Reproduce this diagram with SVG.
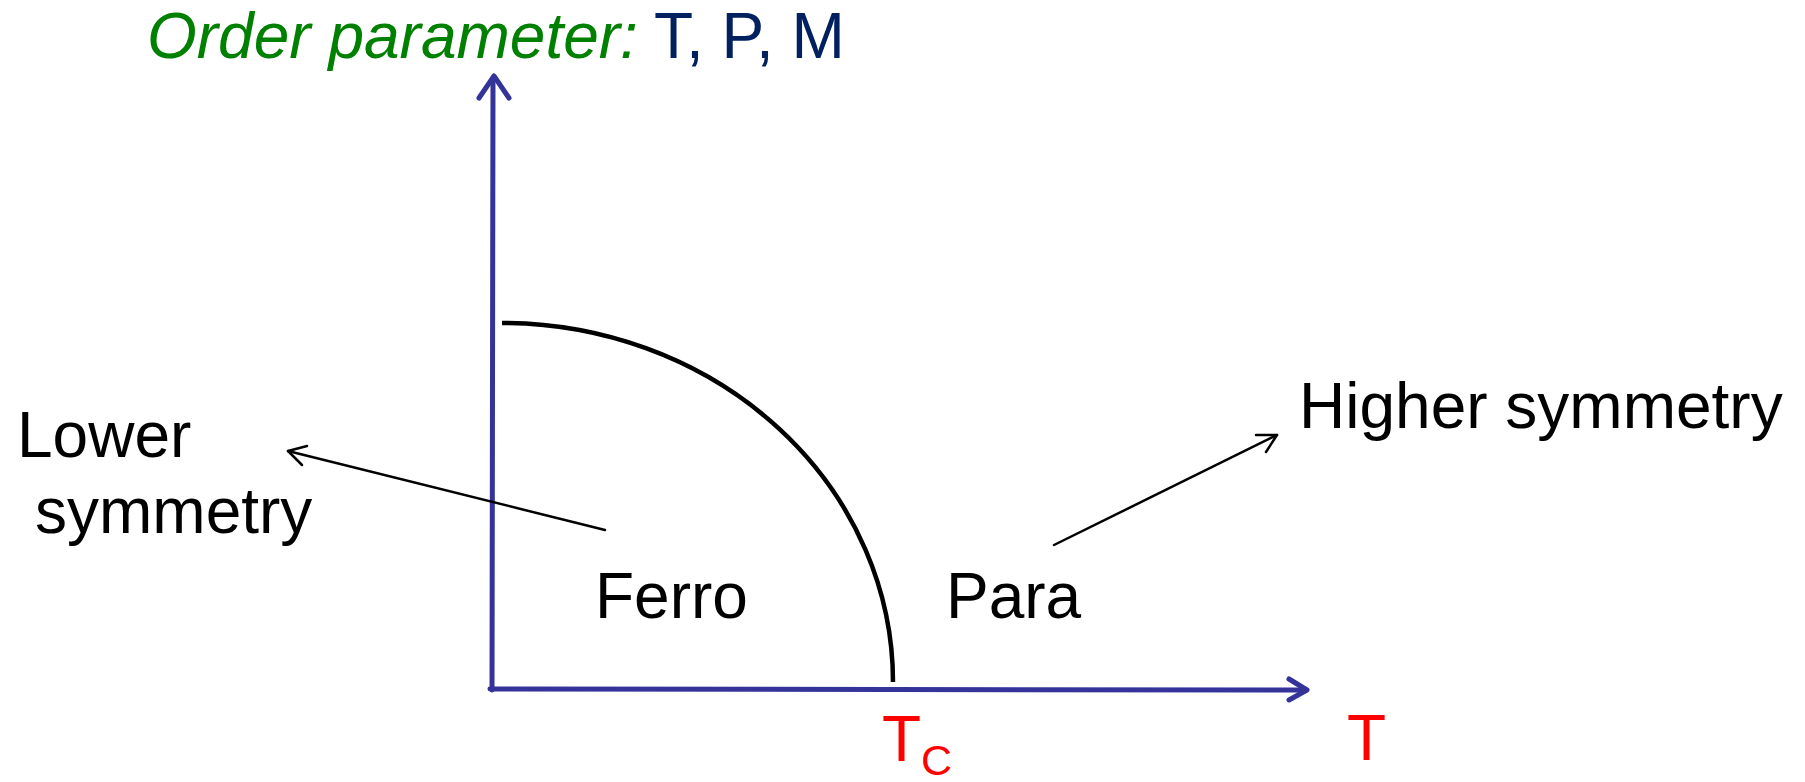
<svg xmlns="http://www.w3.org/2000/svg" width="1805" height="782" viewBox="0 0 1805 782">
<style>
.lbl{font-family:"Liberation Sans",Arial,sans-serif;font-size:64px;fill:#000}
.axis{stroke:#333399;stroke-width:5;fill:none;stroke-linecap:round;stroke-linejoin:round}
.thin{stroke:#000;stroke-width:2.5;fill:none;stroke-linecap:round;stroke-linejoin:round}
</style>
<rect width="1805" height="782" fill="#fff"/>
<g id="title"><text x="147" y="58" style="font-family:'Liberation Sans',Arial,sans-serif;font-size:64px"><tspan fill="#008000" font-style="italic">Order parameter:</tspan><tspan fill="#002060" x="654">T, P, M</tspan></text></g>
<g id="axes">
<line class="axis" x1="492" y1="690" x2="493" y2="78"/>
<path class="axis" d="M479,98 L494,76 L509,98"/>
<line class="axis" x1="490" y1="689" x2="1306" y2="690"/>
<path class="axis" d="M1289,679 L1307,690 L1289,700"/>
</g>
<g id="boundary"><path d="M502,323 A391,359 0 0 1 893,682" stroke="#000" stroke-width="4.5" fill="none"/></g>
<g id="connectors">
<line class="thin" x1="605" y1="530" x2="288" y2="451"/>
<path class="thin" d="M307,446 L288,451 L302,465"/>
<line class="thin" x1="1054" y1="545" x2="1277" y2="435"/>
<path class="thin" d="M1256,435 L1277,435 L1266,452"/>
</g>
<g id="lower"><text class="lbl" x="17" y="457">Lower</text><text class="lbl" x="35" y="533">symmetry</text></g>
<g id="higher"><text class="lbl" x="1299" y="428">Higher symmetry</text></g>
<g id="ferro"><text class="lbl" x="595" y="618">Ferro</text></g>
<g id="para"><text class="lbl" x="946" y="618">Para</text></g>
<g id="tc"><text x="882" y="761" style="font-family:'Liberation Sans',Arial,sans-serif;font-size:64px" fill="#ff0000">T<tspan font-size="43" dy="14">C</tspan></text></g>
<g id="t"><text x="1347" y="760" style="font-family:'Liberation Sans',Arial,sans-serif;font-size:64px" fill="#ff0000">T</text></g>
</svg>
